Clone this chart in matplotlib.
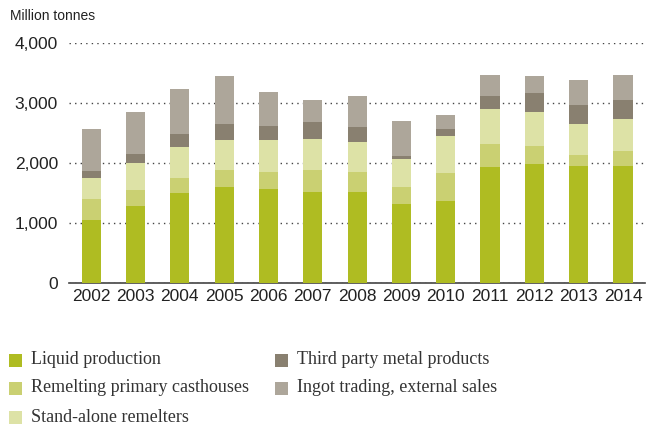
import matplotlib
matplotlib.use('Agg')
import numpy as np
from matplotlib import pyplot as plt
from matplotlib.patches import Rectangle

years = ['2002', '2003', '2004', '2005', '2006', '2007', '2008',
         '2009', '2010', '2011', '2012', '2013', '2014']

# stacked components, bottom to top
liquid = [1055, 1290, 1505, 1605, 1570, 1520, 1520, 1320, 1370, 1940, 1990, 1955, 1955]
remelt_primary = [350, 265, 250, 285, 285, 370, 335, 285, 470, 385, 300, 185, 250]
standalone = [350, 450, 515, 500, 535, 515, 500, 465, 615, 585, 565, 515, 535]
third_party = [115, 150, 215, 265, 235, 285, 250, 50, 115, 215, 315, 315, 315]
ingot = [700, 700, 750, 800, 565, 365, 515, 585, 235, 350, 285, 415, 415]

series = [liquid, remelt_primary, standalone, third_party, ingot]
names = ['Liquid production', 'Remelting primary casthouses', 'Stand-alone remelters',
         'Third party metal products', 'Ingot trading, external sales']
colors = ['#afbc22', '#cad072', '#dde2a6', '#898070', '#ada69a']

W, H = 651, 429
fig = plt.figure(figsize=(W / 100, H / 100), dpi=100)
ax = fig.add_axes([0.106, 0.340, 0.885, 0.559])

x = np.arange(len(years))
bottom = np.zeros(len(years))
for vals, c in zip(series, colors):
    ax.bar(x, vals, width=0.43, bottom=bottom, color=c, zorder=3)
    bottom += np.array(vals)

ax.set_xlim(-0.5, 12.5)
ax.set_ylim(0, 4000)
ax.set_yticks([0, 1000, 2000, 3000, 4000])
ax.set_yticklabels(['0', '1,000', '2,000', '3,000', '4,000'])
ax.set_xticks(x)
ax.set_xticklabels(years)
ax.yaxis.grid(True, linestyle=(0, (1, 3)), color='#444444', linewidth=1.0, zorder=0)
for s in ['top', 'right', 'left']:
    ax.spines[s].set_visible(False)
ax.spines['bottom'].set_color('#444444')
ax.spines['bottom'].set_linewidth(1.2)
ax.tick_params(axis='both', length=0, labelsize=12.5, colors='#222222', pad=4)
ax.tick_params(axis='y', pad=8)
for lab in ax.get_xticklabels() + ax.get_yticklabels():
    lab.set_family('Liberation Sans')

fig.text(0.015, 0.962, 'Million tonnes', fontsize=10, family='Liberation Sans',
         color='#222222', va='center')

# legend laid out by hand in pixel positions: two columns, three rows
col_x = [9, 275]
row_y = [360, 388, 417]
sq = 13
for i, (name, c) in enumerate(zip(names, colors)):
    col, row = (0, i) if i < 3 else (1, i - 3)
    x0, yc = col_x[col], row_y[row]
    fig.add_artist(Rectangle((x0 / W, (H - yc - sq / 2) / H), sq / W, sq / H,
                             transform=fig.transFigure, color=c, lw=0))
    fig.text((x0 + sq + 9) / W, (H - yc) / H, name, fontsize=13,
             family='Liberation Serif', color='#333333', va='center')

fig.savefig('out.png', dpi=100)
